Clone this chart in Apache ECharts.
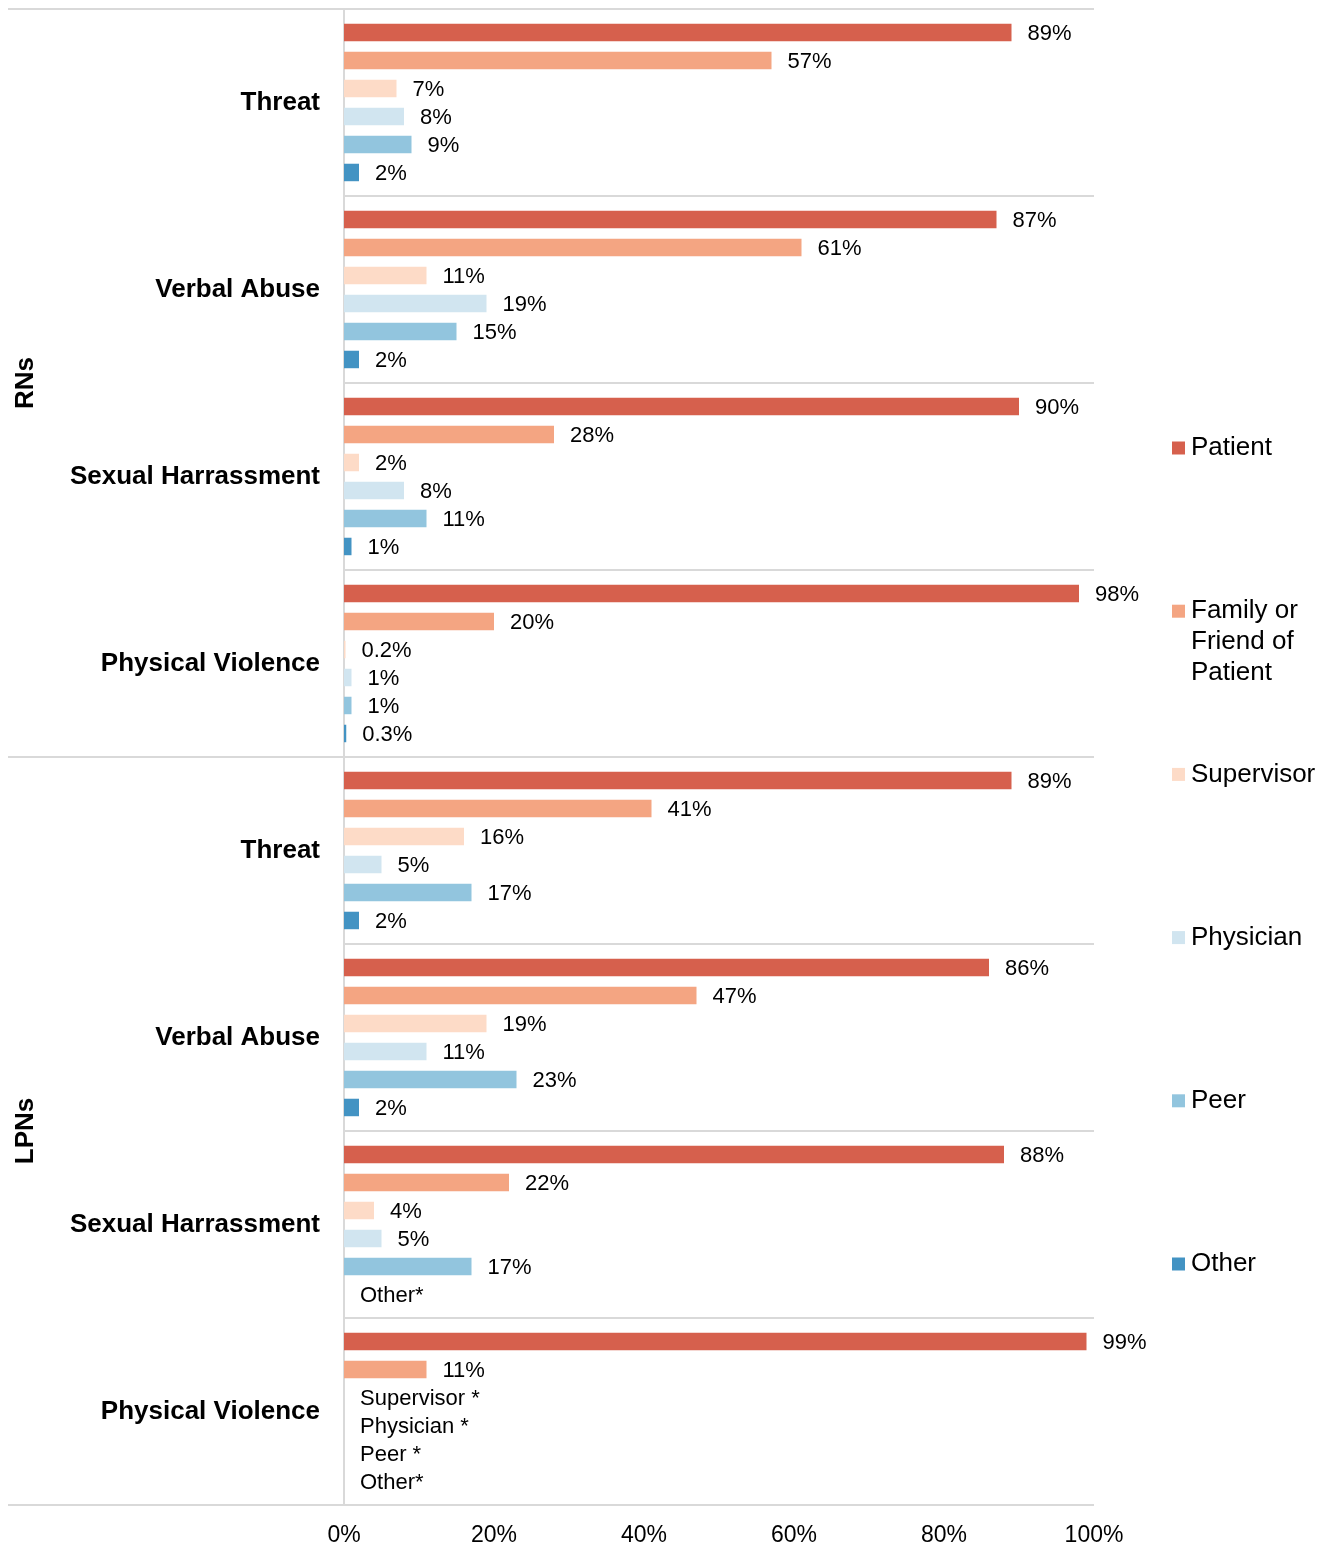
<!DOCTYPE html>
<html>
<head>
<meta charset="utf-8">
<script src="https://cdn.jsdelivr.net/npm/echarts@6/dist/echarts.min.js"></script>
<style>
  html, body { margin: 0; padding: 0; background: #fff; }
  #chart { width: 1332px; height: 1547px; }
</style>
</head>
<body>
<div id="chart"></div>
<script>
// Incident types per nurse group (top to bottom)
const categories = ['Threat', 'Verbal Abuse', 'Sexual Harrassment', 'Physical Violence',
                    'Threat', 'Verbal Abuse', 'Sexual Harrassment', 'Physical Violence'];
const groups = ['RNs', 'LPNs'];

// Perpetrator series
const seriesNames = ['Patient', 'Family or Friend of Patient', 'Supervisor', 'Physician', 'Peer', 'Other'];
const legendTexts = ['Patient', 'Family or\nFriend of\nPatient', 'Supervisor', 'Physician', 'Peer', 'Other'];
const colors = ['#d6604d', '#f4a582', '#fddbc7', '#d1e5f0', '#92c5de', '#4393c3'];

// Percent of respondents; null = suppressed value (shown with a footnote marker)
const patient    = [89, 87, 90, 98,  89, 86, 88, 99];
const family     = [57, 61, 28, 20,  41, 47, 22, 11];
const supervisor = [7, 11, 2, 0.2,   16, 19, 4, null];
const physician  = [8, 19, 8, 1,     5, 11, 5, null];
const peer       = [9, 15, 11, 1,    17, 23, 17, null];
const other      = [2, 2, 1, 0.3,    2, 2, null, null];
const seriesValues = [patient, family, supervisor, physician, peer, other];

// Text shown in place of suppressed values
const footnotes = {
  'Supervisor': { 7: 'Supervisor *' },
  'Physician':  { 7: 'Physician *' },
  'Peer':       { 7: 'Peer *' },
  'Other':      { 6: 'Other*', 7: 'Other*' }
};

const xTicks = { min: 0, max: 100, interval: 20 };

const FONT = '"Liberation Sans", Arial, Helvetica, sans-serif';
const GRID_LINE = '#d9d9d9';

const chart = echarts.init(document.getElementById('chart'), null, { renderer: 'canvas' });

const series = seriesNames.map((name, si) => ({
  name,
  type: 'bar',
  yAxisIndex: 0,
  barGap: '60%',
  barCategoryGap: '15.8%',
  itemStyle: { color: colors[si] },
  label: {
    show: true,
    position: 'right',
    distance: 16,
    offset: [0, 1.5],
    color: '#000',
    fontFamily: FONT,
    fontSize: 22,
    formatter: p => {
      const note = footnotes[name] && footnotes[name][p.dataIndex];
      return note ? note : p.value + '%';
    }
  },
  data: seriesValues[si].map(v => (v === null ? 0 : v))
}));

// Legend: square swatch + text, one entry per series, stacked down the right side
const legendGraphics = [];
legendTexts.forEach((txt, i) => {
  const cy = 448 + i * 163.2;
  legendGraphics.push({
    type: 'rect',
    shape: { x: 1172, y: cy - 6.5, width: 13, height: 13 },
    style: { fill: colors[i] }
  });
  legendGraphics.push({
    type: 'text',
    x: 1191,
    y: cy - 15.5,
    style: {
      text: txt,
      font: '26px ' + FONT,
      lineHeight: 31,
      fill: '#000',
      verticalAlign: 'top',
      align: 'left'
    }
  });
});

chart.setOption({
  backgroundColor: '#fff',
  animation: false,
  grid: { left: 344, right: 238, top: 9, bottom: 42, containLabel: false },
  xAxis: {
    type: 'value',
    min: xTicks.min,
    max: xTicks.max,
    interval: xTicks.interval,
    axisLine: { show: false },
    axisTick: { show: false },
    splitLine: { show: false },
    axisLabel: {
      formatter: '{value}%',
      color: '#000',
      fontFamily: FONT,
      fontSize: 23,
      margin: 19
    }
  },
  yAxis: [
    {
      type: 'category',
      data: categories,
      inverse: true,
      axisLine: { show: true, lineStyle: { color: GRID_LINE, width: 2 } },
      axisTick: { show: false },
      splitLine: { show: true, lineStyle: { color: GRID_LINE, width: 2 } },
      axisLabel: {
        interval: 0,
        color: '#000',
        fontFamily: FONT,
        fontWeight: 'bold',
        fontSize: 26,
        margin: 24
      }
    },
    {
      type: 'category',
      data: groups,
      inverse: true,
      position: 'left',
      axisLine: { show: false },
      axisTick: { show: true, length: 336, lineStyle: { color: GRID_LINE, width: 2 } },
      splitLine: { show: false },
      axisLabel: {
        interval: 0,
        rotate: 90,
        color: '#000',
        fontFamily: FONT,
        fontWeight: 'bold',
        fontSize: 26,
        margin: 305
      }
    }
  ],
  series,
  graphic: legendGraphics
});
</script>
</body>
</html>
